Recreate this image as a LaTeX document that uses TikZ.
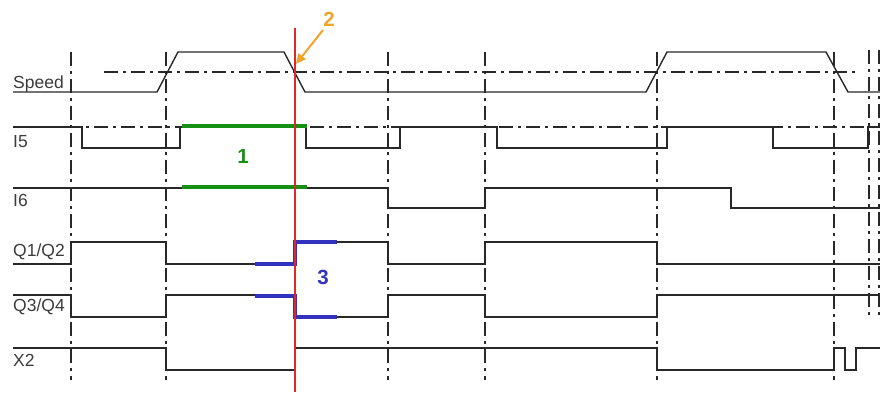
\documentclass[tikz,border=0pt]{standalone}
\usepackage{fontspec}
\setmainfont{Liberation Sans}
\usetikzlibrary{arrows.meta}

\definecolor{sigline}{RGB}{40,40,40}
\definecolor{labelgray}{RGB}{60,60,60}
\definecolor{hlgreen}{RGB}{20,145,20}
\definecolor{hlblue}{RGB}{50,50,190}
\definecolor{markorange}{RGB}{240,165,40}
\definecolor{cutred}{RGB}{225,40,40}

\tikzset{
  signal/.style={draw=sigline, line width=1.4pt, line join=miter},
  refline/.style={draw=sigline, line width=1.3pt,
    dash pattern=on 14pt off 5pt on 3pt off 5pt},
  greenmark/.style={draw=hlgreen, line width=4pt},
  bluemark/.style={draw=hlblue, line width=4pt, line join=miter},
  siglabel/.style={anchor=base west, inner sep=0pt, text=labelgray,
    font=\fontsize{17.5}{19}\selectfont},
  callout/.style={inner sep=0pt, font=\fontsize{20.5}{22}\selectfont\bfseries}
}

\begin{document}
\begin{tikzpicture}[x=1pt, y=-1pt]
  \useasboundingbox (0,0) rectangle (880,392);

  % vertical reference lines at the switching instants
  \foreach \t in {71,166,388,485,657,834}
    \draw[refline] (\t,52) -- (\t,380);
  \foreach \t in {869,879}
    \draw[refline] (\t,50) -- (\t,316);

  % thresholds
  \draw[refline] (104,72) -- (858,72);
  \draw[refline] (13,127) -- (880,127);

  % signal names
  \node[siglabel] (lspeed) at (13,88)  {Speed};
  \node[siglabel] (li5)    at (13,147) {I5};
  \node[siglabel] (li6)    at (13,206) {I6};
  \node[siglabel] (lq12)   at (13,256) {Q1/Q2};
  \node[siglabel] (lq34)   at (13,311) {Q3/Q4};
  \node[siglabel] (lx2)    at (13,366) {X2};

  % Speed
  \draw[signal] (13,92) -- (157,92) -- (178,52) -- (284,52) -- (305,92)
    -- (646,92) -- (667,52) -- (826,52) -- (848,92) -- (880,92);

  % I5
  \draw[signal] (13,127) -- (82,127) -- (82,148) -- (180,148) -- (180,127)
    -- (306,127) -- (306,148) -- (400,148) -- (400,127) -- (497,127)
    -- (497,148) -- (667,148) -- (667,127) -- (773,127) -- (773,148)
    -- (868,148) -- (868,127) -- (880,127);

  % I6
  \draw[signal] (13,188) -- (388,188) -- (388,208) -- (485,208) -- (485,188)
    -- (731,188) -- (731,208) -- (880,208);

  % Q1/Q2
  \draw[signal] (13,264) -- (71,264) -- (71,242) -- (166,242) -- (166,264)
    -- (295,264) -- (295,242) -- (388,242) -- (388,264) -- (485,264)
    -- (485,242) -- (657,242) -- (657,264) -- (880,264);

  % Q3/Q4
  \draw[signal] (13,295) -- (71,295) -- (71,317) -- (166,317) -- (166,295)
    -- (295,295) -- (295,317) -- (388,317) -- (388,295) -- (485,295)
    -- (485,317) -- (657,317) -- (657,295) -- (880,295);

  % X2
  \draw[signal] (13,348) -- (166,348) -- (166,370) -- (295,370) -- (295,348)
    -- (657,348) -- (657,370) -- (834,370) -- (834,348) -- (845,348)
    -- (845,370) -- (856,370) -- (856,348) -- (880,348);

  % 1: both inputs active
  \draw[greenmark] (182,126) -- (307,126);
  \draw[greenmark] (182,187) -- (307,187);
  \node[callout, text=hlgreen] (n1) at (243,156) {1};

  % 3: output changeover
  \draw[bluemark] (255,264) -- (295,264) -- (295,242) -- (337,242);
  \draw[bluemark] (255,296) -- (295,296) -- (295,317) -- (337,317);
  \node[callout, text=hlblue] (n3) at (323,277) {3};

  % cut line at the speed threshold crossing
  \draw[cutred, line width=1.1pt] (295,28) -- (295,392);

  % 2: marker on the crossing
  \node[callout, text=markorange] (n2) at (329,19) {2};
  \coordinate (tail) at (323,30);
  \coordinate (cross) at (296,64);
  \draw[markorange, line width=2pt, -{Triangle[length=10pt,width=9pt]}]
    (tail) -- (cross);
\end{tikzpicture}
\end{document}
